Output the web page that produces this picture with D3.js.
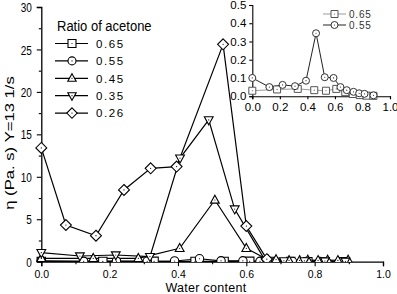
<!DOCTYPE html>
<html><head><meta charset="utf-8">
<script src="https://cdn.jsdelivr.net/npm/d3@7/dist/d3.min.js"></script>
<style>
body{margin:0;background:#fff;}
svg{display:block;font-family:"Liberation Sans",Arial,sans-serif;}
</style></head>
<body><svg id="c" width="397" height="294"></svg>
<script>
// ---- data ----
const xTicks = [0, 0.2, 0.4, 0.6, 0.8, 1.0];
const yTicks = [0, 5, 10, 15, 20, 25, 30];
const insetXTicks = [0, 0.2, 0.4, 0.6, 0.8, 1.0];
const insetYTicks = [0, 0.1, 0.2, 0.3, 0.4, 0.5];
const seriesNames = ["0.65", "0.55", "0.45", "0.35", "0.26"];
const seriesSymbols = ["square", "circle", "triangle", "triangleDown", "diamond"];

const x065 = [0, 0.18, 0.33, 0.45, 0.535, 0.61, 0.675, 0.73, 0.78, 0.83, 0.88];
const y065 = [0.03, 0.037, 0.04, 0.033, 0.03, 0.04, 0.022, 0.012, 0.006, 0.003, 0.002];
const x055 = [0, 0.124, 0.22, 0.31, 0.39, 0.463, 0.526, 0.59, 0.64, 0.686, 0.735, 0.776, 0.815, 0.88];
const y055 = [0.10, 0.05, 0.062, 0.055, 0.085, 0.345, 0.104, 0.10, 0.05, 0.033, 0.024, 0.016, 0.013, 0.005];
const x045 = [0, 0.152, 0.284, 0.405, 0.508, 0.60, 0.664, 0.687, 0.725, 0.756, 0.78, 0.81, 0.838, 0.868, 0.898];
const y045 = [0.4, 0.4, 0.4, 1.58, 7.27, 1.58, 0.2, 0.25, 0.15, 0.15, 0.2, 0.15, 0.2, 0.15, 0.2];
const x035 = [0, 0.113, 0.218, 0.318, 0.406, 0.49, 0.566, 0.655, 0.71, 0.77, 0.83, 0.89];
const y035 = [1.06, 0.67, 0.79, 0.6, 12.2, 16.7, 6.2, 0.15, 0.1, 0.1, 0.08, 0.05];
const x026 = [0, 0.072, 0.16, 0.242, 0.32, 0.396, 0.532, 0.60, 0.66];
const y026 = [13.4, 4.32, 3.06, 8.45, 11.0, 11.2, 25.6, 4.2, 0.3];

const mainSeries = [
  {name: seriesNames[0], sym: seriesSymbols[0], xs: x065, ys: y065},
  {name: seriesNames[1], sym: seriesSymbols[1], xs: x055, ys: y055},
  {name: seriesNames[2], sym: seriesSymbols[2], xs: x045, ys: y045},
  {name: seriesNames[3], sym: seriesSymbols[3], xs: x035, ys: y035},
  {name: seriesNames[4], sym: seriesSymbols[4], xs: x026, ys: y026}
];

const FONT = "'Liberation Sans', Arial, sans-serif";
const STRETCH = 1.28; // vertical stretch of the main chart's texts

// ---- helpers ----
function symPath(type, r) {
  switch (type) {
    case "square": return `M${-r},${-r}H${r}V${r}H${-r}Z`;
    case "circle": return `M${-r},0A${r},${r} 0 1,0 ${r},0A${r},${r} 0 1,0 ${-r},0Z`;
    case "triangle": return `M0,${-r*1.15}L${r*1.05},${r*0.75}L${-r*1.05},${r*0.75}Z`;
    case "triangleDown": return `M0,${r*1.15}L${r*1.05},${-r*0.75}L${-r*1.05},${-r*0.75}Z`;
    case "diamond": return `M0,${-r*1.3}L${r*1.3},0L0,${r*1.3}L${-r*1.3},0Z`;
  }
}
function drawMarker(g, type, cx, cy, r, stroke, sw) {
  const m = g.append("g").attr("transform", `translate(${cx},${cy})`);
  m.append("path").attr("d", symPath(type, r)).attr("fill", "#fff").attr("stroke", stroke).attr("stroke-width", sw);
  m.append("circle").attr("r", 0.6).attr("fill", stroke);
}

const svg = d3.select("#c");

// ---- main chart ----
const x = d3.scaleLinear().domain([0, 1]).range([41.3, 383]);
const y = d3.scaleLinear().domain([0, 30]).range([261.7, 7]);

svg.append("defs").append("clipPath").attr("id", "clipMain")
  .append("rect").attr("x", 30).attr("y", 0).attr("width", 360).attr("height", y(0) + 0.3);

const xAxisMinor = d3.axisBottom(x).tickValues(d3.range(0.1, 1.0, 0.2)).tickSize(2.5).tickFormat("");
const xAxis = d3.axisBottom(x).tickValues(xTicks).tickSize(4.5).tickFormat(d3.format(".1f"));
const yAxisMinor = d3.axisLeft(y).tickValues(d3.range(2.5, 30, 5)).tickSize(2.5).tickFormat("");
const yAxis = d3.axisLeft(y).tickValues(yTicks).tickSize(4.5).tickFormat(d3.format("d"));

function styleAxis(g, fs) {
  g.attr("font-family", FONT);
  g.select(".domain").attr("stroke", "#000").attr("stroke-width", 1.3);
  g.selectAll(".tick line").attr("stroke", "#000").attr("stroke-width", 1.1);
  g.selectAll("text").attr("font-size", fs).attr("fill", "#000").attr("font-family", FONT);
}
const gx = svg.append("g").attr("transform", `translate(0,${y(0)})`).call(xAxis);
styleAxis(gx, 10.5);
gx.selectAll("text").attr("y", 0).attr("dy", 0)
  .attr("transform", `translate(0,${278.2 - y(0)})`);
const gxm = svg.append("g").attr("transform", `translate(0,${y(0)})`).call(xAxisMinor);
styleAxis(gxm, 10); gxm.select(".domain").remove();
const gy = svg.append("g").attr("transform", `translate(${x(0)},0)`).call(yAxis);
styleAxis(gy, 10);
gy.selectAll("text").attr("x", 0).attr("dy", 0)
  .attr("transform", `translate(-9.5,${3.6 * STRETCH}) scale(1,${STRETCH})`);
const gym = svg.append("g").attr("transform", `translate(${x(0)},0)`).call(yAxisMinor);
styleAxis(gym, 10); gym.select(".domain").remove();

svg.append("text").attr("x", 206).attr("y", 291.6)
  .attr("text-anchor", "middle").attr("font-family", FONT).attr("letter-spacing", "0.3px")
  .attr("font-size", 12.5).text("Water content");
svg.append("text").attr("transform", `translate(14,143) rotate(-90) scale(${STRETCH},1)`).attr("text-anchor", "middle")
  .attr("font-family", FONT).attr("font-size", 13).text("η (Pa. s) Y=13 1/s");

const line = d3.line();
const plot = svg.append("g").attr("clip-path", "url(#clipMain)");
mainSeries.forEach(s => {
  const pts = s.xs.map((v, i) => [x(v), y(s.ys[i])]);
  plot.append("path").attr("d", line(pts)).attr("fill", "none").attr("stroke", "#000").attr("stroke-width", 1.2);
});
mainSeries.forEach(s => {
  s.xs.forEach((v, i) => drawMarker(plot, s.sym, x(v), y(s.ys[i]), 4.2, "#000", 1.1));
});

// legend
const lg = svg.append("g").attr("font-family", FONT);
lg.append("text").attr("transform", "translate(57,30.5) scale(1,1.08)").attr("font-size", 13).text("Ratio of acetone");
mainSeries.forEach((s, i) => {
  const yy = 43.5 + i * 17.4;
  lg.append("line").attr("x1", 55).attr("x2", 88).attr("y1", yy).attr("y2", yy).attr("stroke", "#000").attr("stroke-width", 1.2);
  drawMarker(lg, s.sym, 72, yy, 4, "#000", 1.1);
  lg.append("text").attr("x", 96).attr("y", yy + 4.2).attr("font-size", 11.5).attr("letter-spacing", "1.6px").text(s.name);
});

// ---- inset ----
const ix = d3.scaleLinear().domain([0, 1]).range([252.3, 390]);
const iy = d3.scaleLinear().domain([0, 0.5]).range([96.2, 5]);
const igx = svg.append("g").attr("transform", `translate(0,${iy(0)})`)
  .call(d3.axisBottom(ix).tickValues(insetXTicks).tickSize(3).tickFormat(d3.format(".1f")));
styleAxis(igx, 11.5); igx.select(".domain").attr("stroke-width", 1.1);
igx.selectAll("text").attr("dy", "0.8em");
const igy = svg.append("g").attr("transform", `translate(${ix(0)},0)`)
  .call(d3.axisLeft(iy).tickValues(insetYTicks).tickSize(3).tickFormat(d3.format(".1f")));
styleAxis(igy, 11.5); igy.select(".domain").attr("stroke-width", 1.1);

const insetSeries = [
  {sym: "square", xs: x065, ys: y065, color: "#9a9a9a", mcolor: "#555", name: seriesNames[0]},
  {sym: "circle", xs: x055, ys: y055, color: "#222", mcolor: "#333", name: seriesNames[1]}
];
insetSeries.forEach(s => {
  const pts = s.xs.map((v, i) => [ix(v), iy(s.ys[i])]);
  svg.append("path").attr("d", line(pts)).attr("fill", "none").attr("stroke", s.color).attr("stroke-width", 1);
});
insetSeries.forEach(s => {
  s.xs.forEach((v, i) => drawMarker(svg, s.sym, ix(v), iy(s.ys[i]), 3.5, s.mcolor, 1));
});
insetSeries.forEach((s, i) => {
  const yy = 14 + i * 11;
  svg.append("line").attr("x1", 323).attr("x2", 346).attr("y1", yy).attr("y2", yy).attr("stroke", s.color).attr("stroke-width", 1);
  drawMarker(svg, s.sym, 334.5, yy, 3.5, s.mcolor, 1);
  svg.append("text").attr("x", 349).attr("y", yy + 3.6).attr("font-size", 10).attr("font-family", FONT)
    .attr("letter-spacing", "0.8px").attr("fill", "#333").text(s.name);
});
</script></body></html>
